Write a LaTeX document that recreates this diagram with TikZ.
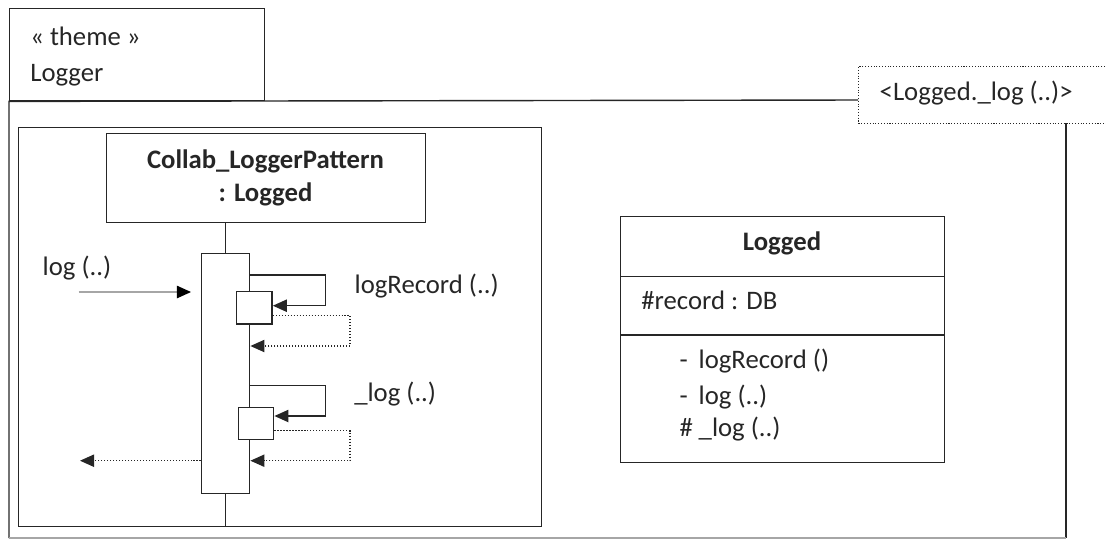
\documentclass[tikz,border=0pt]{standalone}
\usepackage{fontspec}
\setmainfont{Carlito}
\usetikzlibrary{arrows.meta,positioning}

\begin{document}
\begin{tikzpicture}[x=0.02cm, y=-0.02cm, line width=0.8pt, color=black!85,
    box/.style={draw, inner sep=0pt, anchor=north west},
    lbl/.style={anchor=base west, inner sep=0pt, font=\fontsize{15.2}{18}\selectfont},
    blbl/.style={anchor=base, inner sep=0pt, font=\fontsize{15.2}{18}\selectfont\bfseries},
    call/.style={-{Triangle[length=8pt,width=7pt]}},
    ret/.style={line width=0.7pt, densely dotted, -{Triangle[length=8pt,width=7pt]}}]
    % Define pixel unit
    \def\px{0.02cm}
    \clip (0,0) rectangle (1106,539);

    % Draw the package tab and its frame
    \node[box, minimum width=254.5*\px, minimum height=92*\px] (theme) at (9,8) {};
    \node[lbl] (stereo) at (29.6,45.7) {« theme »};
    \node[lbl] (pkgname) at (29.6,81) {Logger};
    \node[box, densely dotted, line width=0.6pt, minimum width=280*\px, minimum height=57.6*\px] (tag) at (858,65.7) {};
    \node[lbl] (tagtext) at (879,100) {<Logged.\_log (..)>};
    \draw (858,100) -- (theme.south west) -- (9,538);
    \draw (1066,123.3) -- (1066,538);
    \draw[black!35] (9,538) -- (1066,538);

    % Draw the collaboration frame
    \node[box, minimum width=523*\px, minimum height=399.3*\px] (frame) at (18,126.7) {};
    \node[box, minimum width=319*\px, minimum height=89*\px] (collab) at (106,133) {};
    \node[blbl] (collabname) at (265.5,168) {Collab\_LoggerPattern};
    \node[blbl] (collabtype) at (265.5,201) {: Logged};

    % Draw the lifeline with its activations
    \node[box, minimum width=48.3*\px, minimum height=240.3*\px] (act) at (200.7,252.7) {};
    \node[box, fill=white, minimum width=35.7*\px, minimum height=32.3*\px] (rec) at (235.7,291) {};
    \node[box, fill=white, minimum width=35.5*\px, minimum height=32.3*\px] (inner) at (237.5,406.7) {};
    \draw (act.north |- collab.south) -- (act.north);
    \draw (act.south) -- (act.south |- frame.south);

    % Draw the messages
    \coordinate (instart) at (78.6,292);
    \coordinate (outend) at (80,460.7);
    \draw[black!35, -{Triangle[length=8pt,width=7pt,color=black]}, shorten >=5.5pt] (instart) -- (act.west |- instart);
    \node[lbl] (inmsg) at (42,275) {log (..)};
    \draw[call] (act.east |- 0,275) -- (325.7,275) -- (325.7,305.7) -- (rec.east |- 0,305.7);
    \draw[ret] (rec.east |- 0,315.7) -- (350,315.7) -- (350,346) -- (act.east |- 0,346);
    \node[lbl] (recmsg) at (354,293) {logRecord (..)};
    \draw[call] (act.east |- 0,385.7) -- (325.7,385.7) -- (325.7,416) -- (inner.east |- 0,416);
    \draw[ret] (inner.east |- 0,430.7) -- (350,430.7) -- (350,460.7) -- (act.east |- 0,460.7);
    \node[lbl] (innermsg) at (353.6,401.7) {\_log (..)};
    \draw[ret] (act.west |- outend) -- (outend);

    % Draw the class box
    \node[box, minimum width=324*\px, minimum height=60*\px] (clname) at (620,215.7) {};
    \node[box, minimum width=324*\px, minimum height=58.6*\px] (clattr) at (620,275.7) {};
    \node[box, minimum width=324*\px, minimum height=127.4*\px] (clops) at (620,334.3) {};
    \node[blbl] (cltitle) at (782,250) {Logged};
    \node[lbl] (attr) at (640.7,309) {\#record : DB};
    \foreach \y/\v/\m in {368/-/logRecord (), 404/-/log (..), 436.7/\#/\_log (..)} {
        \node[lbl] at (679,\y) {\v};
        \node[lbl] at (698,\y) {\m};
    }
\end{tikzpicture}
\end{document}
